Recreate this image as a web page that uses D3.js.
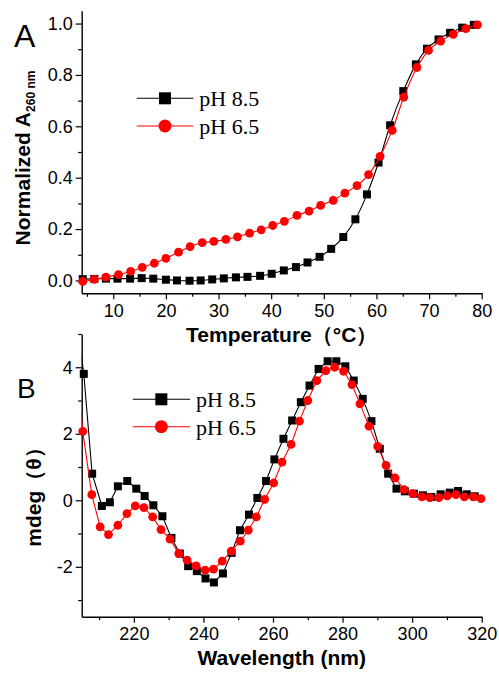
<!DOCTYPE html>
<html>
<head>
<meta charset="utf-8">
<script src="https://cdn.jsdelivr.net/npm/d3@7"></script>
<style>
  body { margin: 0; background: #fff; }
  text { font-family: "Liberation Sans", Arial, sans-serif; fill: #000; }
</style>
</head>
<body>
<div id="chart"></div>
<script>
// Panel A: normalized A260 vs temperature
const tempBlack = [4.2, 6.4, 8.6, 10.8, 13.2, 15.4, 17.6, 20.0, 22.1, 24.5, 26.6, 28.8, 31.0, 33.3, 35.5,
  37.9, 40.1, 42.4, 44.7, 46.9, 49.2, 51.4, 53.7, 56.0, 58.2, 60.4, 62.6, 65.1, 67.5, 69.6, 71.8, 74.0, 76.3, 78.5];
const absBlack = [0.005, 0.006, 0.007, 0.007, 0.007, 0.009, 0.007, 0.003, 0.0, -0.001, 0.0, 0.004, 0.008, 0.012, 0.014,
  0.018, 0.026, 0.039, 0.052, 0.07, 0.092, 0.123, 0.169, 0.238, 0.335, 0.459, 0.604, 0.737, 0.841, 0.902, 0.938, 0.964, 0.984, 0.995];
const tempRed = [4.2, 6.4, 8.6, 11.0, 13.3, 15.5, 17.8, 20.0, 22.4, 24.6, 26.9, 29.1, 31.4, 33.6, 35.9,
  38.1, 40.3, 42.5, 44.9, 47.2, 49.4, 51.8, 54.0, 56.3, 58.5, 60.7, 63.0, 65.2, 67.7, 69.9, 72.2, 74.6, 77.0, 79.2];
const absRed = [-0.004, 0.004, 0.013, 0.023, 0.035, 0.051, 0.067, 0.086, 0.11, 0.132, 0.147, 0.152, 0.16, 0.17, 0.184,
  0.197, 0.214, 0.23, 0.253, 0.27, 0.292, 0.312, 0.34, 0.369, 0.412, 0.483, 0.584, 0.714, 0.829, 0.896, 0.932, 0.958, 0.98, 0.995];

// Panel B: CD spectra (first point of each sits above the top of the axis)
const waveBlack = [203.1, 205.6, 208.0, 210.8, 213.1, 215.4, 218.1, 220.7, 223.1, 225.6, 228.2, 230.8, 233.2, 235.6, 238.1,
  240.6, 243.0, 245.6, 248.1, 250.5, 253.1, 255.5, 258.0, 260.4, 263.0, 265.5, 268.0, 270.5, 273.1, 275.7,
  278.2, 280.8, 283.2, 285.8, 288.3, 290.7, 293.1, 295.5, 297.9, 300.5, 303.1, 305.5, 308.2, 310.8, 313.2, 315.7, 318.0];
const cdBlack = [5.7, 3.80, 0.80, -0.17, -0.06, 0.42, 0.58, 0.35, 0.13, -0.15, -0.48, -1.13, -1.6, -1.98, -2.13,
  -2.35, -2.47, -2.2, -1.58, -0.9, -0.43, 0.07, 0.58, 1.23, 1.85, 2.4, 2.95, 3.45, 3.95, 4.18,
  4.18, 4.03, 3.6, 3.05, 2.38, 1.55, 0.8, 0.35, 0.27, 0.2, 0.15, 0.1, 0.18, 0.23, 0.28, 0.18, 0.12];
const waveRed = [202.8, 205.3, 207.9, 210.3, 212.7, 215.4, 218.0, 220.4, 222.9, 225.4, 227.8, 230.4, 232.9, 235.3, 237.9,
  240.5, 242.9, 245.4, 248.0, 250.6, 252.9, 255.2, 257.6, 260.2, 262.6, 265.2, 267.6, 270.0, 272.6, 275.2,
  277.7, 280.3, 282.7, 285.0, 287.6, 290.1, 292.5, 295.1, 297.7, 300.2, 302.8, 305.1, 307.7, 310.1, 312.6, 315.0, 317.6, 319.8];
const cdRed = [5.1, 2.07, 0.17, -0.8, -1.03, -0.75, -0.4, -0.17, -0.22, -0.5, -0.88, -1.17, -1.6, -1.8, -1.97,
  -2.1, -2.07, -1.83, -1.53, -1.23, -0.9, -0.5, 0.03, 0.52, 1.15, 1.68, 2.38, 3.0, 3.6, 3.9,
  4.0, 3.88, 3.48, 2.9, 2.23, 1.62, 1.05, 0.67, 0.32, 0.2, 0.1, 0.08, 0.08, 0.13, 0.17, 0.1, 0.1, 0.05];

const seriesNames = ["pH 8.5", "pH 6.5"];

// tick labels
const tempTicks = [10, 20, 30, 40, 50, 60, 70, 80];
const tempMinor = [5, 15, 25, 35, 45, 55, 65, 75];
const absTicks = [0, 0.2, 0.4, 0.6, 0.8, 1.0];
const absMinor = [0.1, 0.3, 0.5, 0.7, 0.9];
const waveTicks = [220, 240, 260, 280, 300, 320];
const waveMinor = [210, 230, 250, 270, 290, 310];
const cdTicks = [-2, 0, 2, 4];
const cdMinor = [-3, -1, 1, 3, 5];

const svg = d3.select("#chart")
  .append("svg")
  .attr("width", 499)
  .attr("height", 673);

const xA = d3.scaleLinear().domain([4, 80]).range([81.7, 481.7]);
const yA = d3.scaleLinear().domain([-0.05, 1.05]).range([293.3, 10.7]);
const xB = d3.scaleLinear().domain([205, 320]).range([81.7, 481.7]);
const yB = d3.scaleLinear().domain([-3.5, 5]).range([616.7, 334]);

function drawAxes(x, y, xMajor, xMinor, yMajor, yMinor, yFormat) {
  const y0 = y.range()[0], x0 = x.range()[0];

  const gx = svg.append("g").attr("transform", `translate(0,${y0})`);
  gx.call(d3.axisBottom(x).tickValues(xMajor).tickSize(6).tickSizeOuter(0).tickPadding(5).tickFormat(d => String(d)));
  gx.append("g").call(d3.axisBottom(x).tickValues(xMinor).tickSize(3.5).tickFormat(""))
    .select(".domain").remove();

  const gy = svg.append("g").attr("transform", `translate(${x0},0)`);
  gy.call(d3.axisLeft(y).tickValues(yMajor).tickSize(6).tickSizeOuter(0).tickPadding(3).tickFormat(yFormat));
  gy.append("g").call(d3.axisLeft(y).tickValues(yMinor).tickSize(3.5).tickFormat(""))
    .select(".domain").remove();

  [gx, gy].forEach(g => {
    g.selectAll(".domain").attr("stroke", "#000").attr("stroke-width", 1.4);
    g.selectAll(".tick line").attr("stroke", "#000").attr("stroke-width", 1.2);
    g.selectAll(".tick text")
      .attr("font-family", "'Liberation Sans', Arial, sans-serif")
      .attr("font-size", 18)
      .attr("fill", "#000");
  });
}

function drawSeries(x, y, xs, ys, color, shape, curve, clipId) {
  const pts = d3.zip(xs, ys);
  const line = d3.line()
    .x(d => x(d[0]))
    .y(d => y(d[1]))
    .curve(curve);

  const path = svg.append("path")
    .datum(pts)
    .attr("d", line)
    .attr("fill", "none")
    .attr("stroke", color)
    .attr("stroke-width", 1.1);
  if (clipId) path.attr("clip-path", `url(#${clipId})`);

  const [d0, d1] = x.domain();
  const [v0, v1] = y.domain();
  const inside = pts.filter(d => d[0] >= d0 - 0.5 && d[0] <= d1 + 0.5 && d[1] >= v0 && d[1] <= v1);

  if (shape === "square") {
    svg.append("g").selectAll("rect")
      .data(inside)
      .enter()
      .append("rect")
      .attr("x", d => x(d[0]) - 4)
      .attr("y", d => y(d[1]) - 4)
      .attr("width", 8)
      .attr("height", 8)
      .attr("fill", color);
  } else {
    svg.append("g").selectAll("circle")
      .data(inside)
      .enter()
      .append("circle")
      .attr("cx", d => x(d[0]))
      .attr("cy", d => y(d[1]))
      .attr("r", 4.4)
      .attr("fill", color);
  }
}

function drawLegend(x1, x2, y, color, shape, label) {
  svg.append("line")
    .attr("x1", x1).attr("x2", x2)
    .attr("y1", y).attr("y2", y)
    .attr("stroke", color)
    .attr("stroke-width", 1.1);
  const cx = (x1 + x2) / 2;
  if (shape === "square") {
    svg.append("rect")
      .attr("x", cx - 6).attr("y", y - 6)
      .attr("width", 12).attr("height", 12)
      .attr("fill", color);
  } else {
    svg.append("circle")
      .attr("cx", cx).attr("cy", y)
      .attr("r", 6.5)
      .attr("fill", color);
  }
  svg.append("text")
    .attr("x", x2 + 6)
    .attr("y", y + 8)
    .style("font-family", "'Liberation Serif', 'Times New Roman', serif")
    .attr("font-size", 22)
    .text(label);
}

// clip for panel B lines
svg.append("clipPath")
  .attr("id", "clipB")
  .append("rect")
  .attr("x", xB.range()[0]).attr("y", yB.range()[1])
  .attr("width", xB.range()[1] - xB.range()[0])
  .attr("height", yB.range()[0] - yB.range()[1]);

// ---- panel A ----
drawAxes(xA, yA, tempTicks, tempMinor, absTicks, absMinor, d3.format(".1f"));
drawSeries(xA, yA, tempBlack, absBlack, "#000", "square", d3.curveMonotoneX);
drawSeries(xA, yA, tempRed, absRed, "#ff0000", "circle", d3.curveMonotoneX);
drawLegend(136.7, 193.3, 98.3, "#000", "square", seriesNames[0]);
drawLegend(136.7, 193.3, 126, "#ff0000", "circle", seriesNames[1]);

svg.append("text")
  .attr("x", 14).attr("y", 47)
  .attr("font-size", 32)
  .text("A");

svg.append("text")
  .attr("x", 281.7).attr("y", 342)
  .attr("text-anchor", "middle")
  .attr("font-size", 21)
  .attr("font-weight", "bold")
  .text("Temperature（°C）");

const titleA = svg.append("text")
  .attr("transform", "translate(30,158) rotate(-90)")
  .attr("text-anchor", "middle")
  .attr("font-size", 21)
  .attr("font-weight", "bold");
titleA.append("tspan").text("Normalized A");
titleA.append("tspan").attr("font-size", 12).attr("dy", 5).text("260 nm");

// ---- panel B ----
drawAxes(xB, yB, waveTicks, waveMinor, cdTicks, cdMinor, d => String(d));
drawSeries(xB, yB, waveBlack, cdBlack, "#000", "square", d3.curveLinear, "clipB");
drawSeries(xB, yB, waveRed, cdRed, "#ff0000", "circle", d3.curveLinear, "clipB");
drawLegend(132.7, 190, 399.3, "#000", "square", seriesNames[0]);
drawLegend(132.7, 190, 426.7, "#ff0000", "circle", seriesNames[1]);

svg.append("text")
  .attr("x", 17).attr("y", 398)
  .attr("font-size", 28)
  .text("B");

svg.append("text")
  .attr("x", 281.7).attr("y", 665)
  .attr("text-anchor", "middle")
  .attr("font-size", 21)
  .attr("font-weight", "bold")
  .text("Wavelength (nm)");

svg.append("text")
  .attr("transform", "translate(41,492) rotate(-90)")
  .attr("text-anchor", "middle")
  .attr("font-size", 21)
  .attr("font-weight", "bold")
  .text("mdeg（θ）");
</script>
</body>
</html>
